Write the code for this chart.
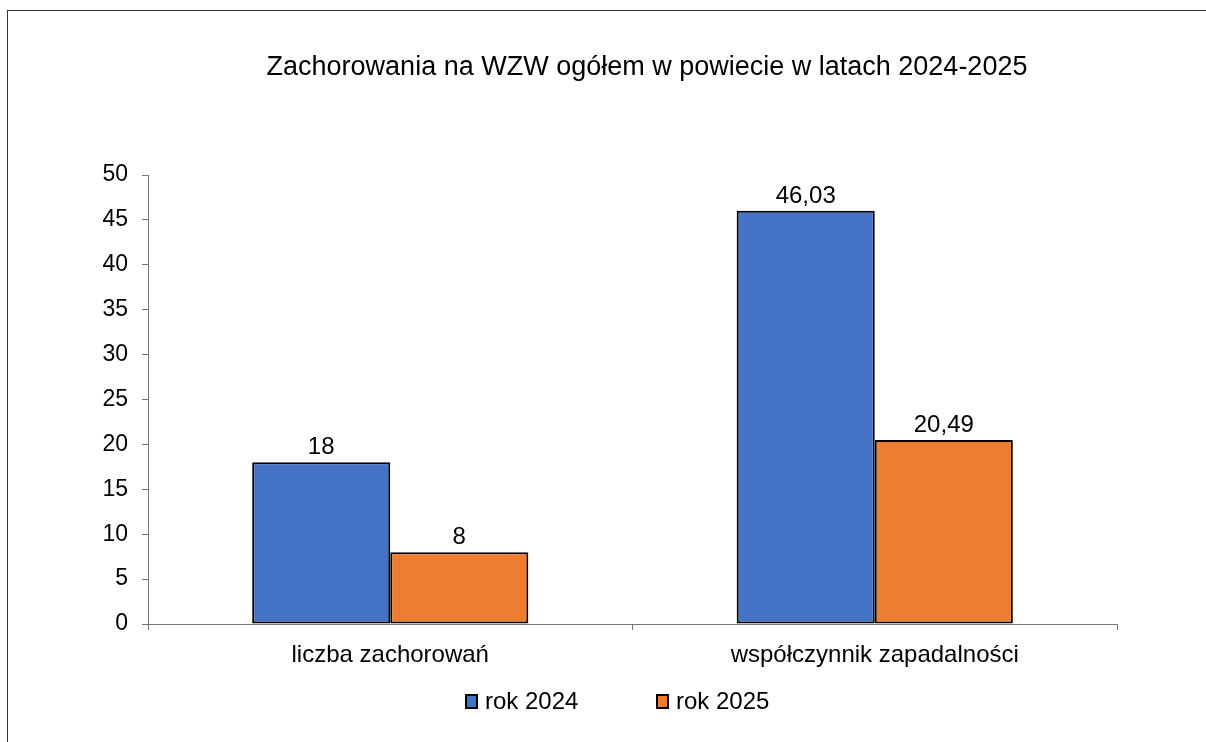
<!DOCTYPE html>
<html>
<head>
<meta charset="utf-8">
<script src="https://cdn.jsdelivr.net/npm/chart.js@4.4.1/dist/chart.umd.min.js"></script>
<style>
    html, body { margin: 0; padding: 0; background: #fff; }
    #wrap { position: relative; width: 1206px; height: 742px; }
</style>
</head>
<body>
<div id="wrap"><canvas id="myChart" width="1206" height="742"></canvas></div>
<script>
const chartTitle = "Zachorowania na WZW ogółem w powiecie w latach 2024-2025";
const categories = ["liczba zachorowań", "współczynnik zapadalności"];
const seriesNames = ["rok 2024", "rok 2025"];
const values2024 = [18, 46.03];
const values2025 = [8, 20.49];
const yTicks = [0, 5, 10, 15, 20, 25, 30, 35, 40, 45, 50];

const FONT = "'Liberation Sans', Arial, sans-serif";

// title, legend, value labels and outer frame drawn by hand
const extras = {
    id: "extras",
    beforeDraw(chart) {
        const ctx = chart.ctx;
        ctx.save();
        ctx.strokeStyle = "#333";
        ctx.lineWidth = 1;
        ctx.strokeRect(7.5, 10.5, 3000, 3000);
        ctx.restore();
    },
    afterDatasetsDraw(chart) {
        const ctx = chart.ctx;
        ctx.save();
        ctx.font = "24px " + FONT;
        ctx.fillStyle = "#000";
        ctx.textAlign = "center";
        ctx.textBaseline = "alphabetic";
        chart.data.datasets.forEach((ds, i) => {
            chart.getDatasetMeta(i).data.forEach((bar, j) => {
                const txt = String(ds.data[j]).replace(".", ",");
                ctx.fillText(txt, bar.x, bar.y - 8);
            });
        });
        ctx.restore();
    },
    afterDraw(chart) {
        const ctx = chart.ctx;
        ctx.save();
        // title
        ctx.font = "27px " + FONT;
        ctx.fillStyle = "#000";
        ctx.textAlign = "center";
        ctx.textBaseline = "middle";
        ctx.fillText(chartTitle, 647, 68);

        // legend
        ctx.font = "24px " + FONT;
        ctx.textAlign = "left";
        const legendX = [466, 657];
        chart.data.datasets.forEach((ds, i) => {
            const x = legendX[i];
            ctx.fillStyle = ds.backgroundColor;
            ctx.fillRect(x, 695, 11, 13);
            ctx.strokeStyle = "#000";
            ctx.lineWidth = 2;
            ctx.strokeRect(x, 695, 11, 13);
            ctx.fillStyle = "#000";
            ctx.fillText(ds.label, x + 19, 702);
        });
        ctx.restore();
    },
};

const ctx = document.getElementById("myChart").getContext("2d");
const chart = new window.Chart(ctx, {
    type: "bar",
    data: {
        labels: categories,
        datasets: [
            {
                label: seriesNames[0],
                backgroundColor: "#4472C4",
                borderColor: "#000",
                borderWidth: 2,
                borderSkipped: false,
                data: values2024,
            },
            {
                label: seriesNames[1],
                backgroundColor: "#ED7D31",
                borderColor: "#000",
                borderWidth: 2,
                borderSkipped: false,
                data: values2025,
            },
        ],
    },
    options: {
        responsive: false,
        animation: false,
        layout: {
            padding: { left: 0, right: 89, top: 175, bottom: 0 },
        },
        datasets: {
            bar: { categoryPercentage: 0.57, barPercentage: 1 },
        },
        plugins: {
            legend: { display: false },
            title: { display: false },
            tooltip: { enabled: false },
        },
        scales: {
            y: {
                min: 0,
                max: 50,
                afterFit: (scale) => { scale.width = 148; },
                afterBuildTicks: (scale) => {
                    scale.ticks = yTicks.map((v) => ({ value: v }));
                },
                border: { display: true, color: "#777", width: 1 },
                grid: {
                    drawOnChartArea: false,
                    drawTicks: true,
                    tickLength: 6,
                    color: "#777",
                },
                ticks: {
                    color: "#000",
                    padding: 14,
                    font: { family: FONT, size: 23 },
                },
            },
            x: {
                afterFit: (scale) => { scale.height = 118; },
                border: { display: true, color: "#777", width: 1 },
                grid: {
                    drawOnChartArea: false,
                    drawTicks: true,
                    tickLength: 6,
                    offset: true,
                    color: "#777",
                },
                ticks: {
                    color: "#000",
                    padding: 11,
                    font: { family: FONT, size: 24 },
                },
            },
        },
    },
    plugins: [extras],
});
</script>
</body>
</html>
